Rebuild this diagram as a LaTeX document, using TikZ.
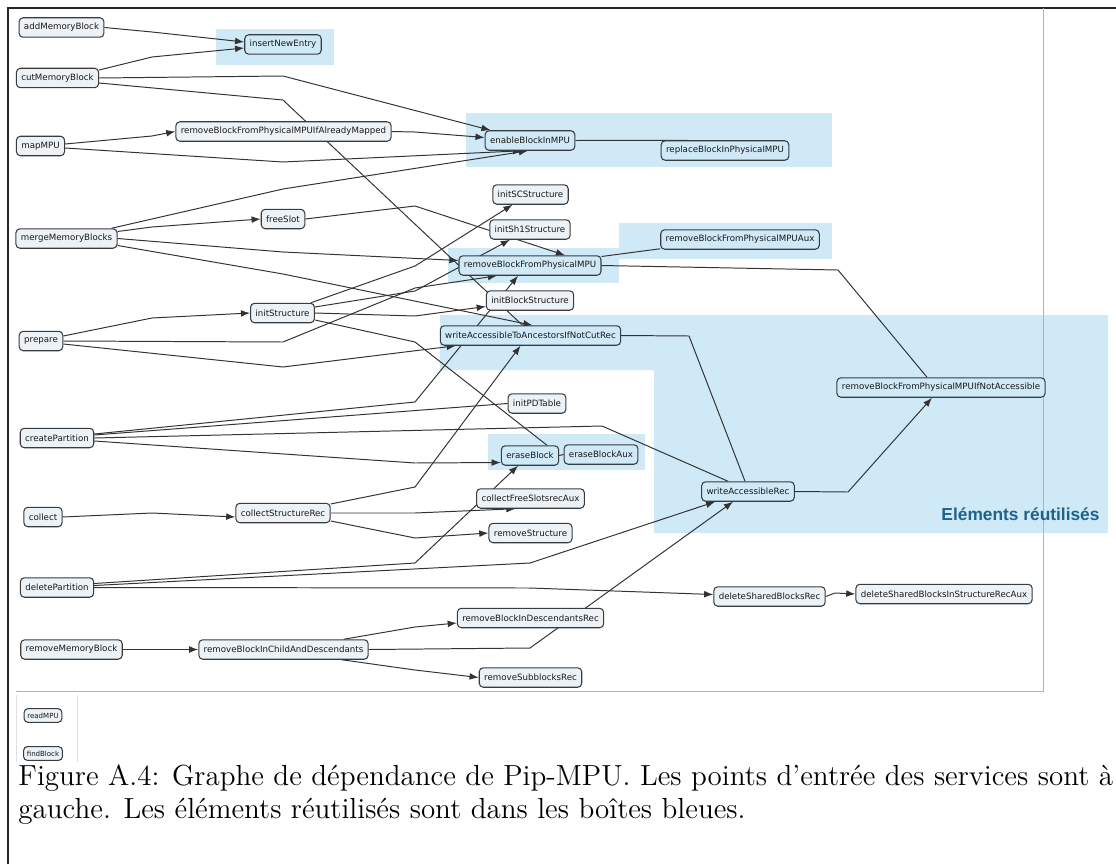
\documentclass[tikz,border=0pt]{standalone}
\usepackage{fontspec}
\setsansfont{DejaVu Sans}
\newfontfamily\tagfont{Liberation Sans}
\usetikzlibrary{calc,arrows.meta}
\definecolor{reuse}{RGB}{207,233,246}
\definecolor{fnfill}{RGB}{236,242,246}
\definecolor{fnline}{RGB}{55,60,65}
\definecolor{tagblue}{RGB}{31,98,140}
\def\fnnode{\node[fn]}
\def\fnreuse{\node[fn,fill=reuse]}
\def\drawcall{\draw[call]}
\def\drawlink{\draw[link]}
\pgfdeclarelayer{bg}
\pgfdeclarelayer{edges}
\pgfsetlayers{bg,edges,main}

\begin{document}
\begin{tikzpicture}[x=0.4268pt,y=-0.4268pt,
  fn/.style={draw=fnline,fill=fnfill,rounded corners=1.7pt,line width=0.45pt,
    font=\sffamily\fontsize{3.7}{4.2}\selectfont,text=black!90,
    minimum height=8.3pt,inner xsep=2.1pt,inner ysep=0pt},
  fnsmall/.style={fn,font=\sffamily\fontsize{3}{3.5}\selectfont,minimum height=5.9pt,inner xsep=1.4pt},
  link/.style={draw=black!80,line width=0.42pt},
  call/.style={link,-{Latex[length=3.9pt,width=2.9pt]}}]
\useasboundingbox (0,0) rectangle (1116,864);

% ---------- blue boxes of the reused elements
\begin{pgfonlayer}{bg}
\fill[reuse] (216,29) rectangle (334,65);
\fill[reuse] (466,113) rectangle (832,167);
\fill[reuse] (448,248) rectangle (619,283);
\fill[reuse] (619,223) rectangle (832,259);
\fill[reuse] (440,315) -- (1108,315) -- (1108,533) -- (654,533) -- (654,370) -- (440,370) -- cycle;
\fill[reuse] (488,434) rectangle (645,470);
\end{pgfonlayer}

% frame of the page and of the graph
\draw[black!85,line width=0.7pt] (8,864) -- (8,8) -- (1116,8);
\draw[black!30,line width=0.4pt] (1043,8) -- (1043,691) -- (16,691);
\draw[black!12,line width=0.4pt] (16,695) -- (16,762);
\draw[black!12,line width=0.4pt] (77,695) -- (77,762);

% ---------- entry points of the services
\fnnode (addMB) at (61.5,27.5) {addMemoryBlock};
\fnnode (cutMB) at (57.5,78) {cutMemoryBlock};
\fnnode (mapMPU) at (40.5,146) {mapMPU};
\fnnode (mergeMB) at (66.5,238.5) {mergeMemoryBlocks};
\fnnode (prepare) at (41,341) {prepare};
\fnnode (createP) at (57,438) {createPartition};
\fnnode (collect) at (43,517) {collect};
\fnnode (deleteP) at (57,587.5) {deletePartition};
\fnnode (removeMB) at (71.5,649.5) {removeMemoryBlock};
\node[fnsmall] (readMPU) at (43,715.5) {readMPU};
\node[fnsmall] (findBlock) at (43,753.5) {findBlock};

% ---------- second column
\fnreuse (insertNE) at (283,44.5) {insertNewEntry};
\fnnode (rbfpAM) at (283.5,131.5) {removeBlockFromPhysicalMPUIfAlreadyMapped};
\fnnode (freeSlot) at (283,219) {freeSlot};
\fnnode (initS) at (282.5,313) {initStructure};
\fnnode (collectSR) at (283,513) {collectStructureRec};
\fnnode (rbicad) at (283.5,649.5) {removeBlockInChildAndDescendants};

% ---------- third column
\fnreuse (enableB) at (530,140.5) {enableBlockInMPU};
\fnnode (initSC) at (530.5,194.5) {initSCStructure};
\fnnode (initSh1) at (530,229.5) {initSh1Structure};
\fnreuse (rbfp) at (530,265.5) {removeBlockFromPhysicalMPU};
\fnnode (initBS) at (530,300.5) {initBlockStructure};
\fnreuse (wataincr) at (530.5,335.5) {writeAccessibleToAncestorsIfNotCutRec};
\fnnode (initPD) at (537,403.5) {initPDTable};
\fnreuse (eraseB) at (530,455.5) {eraseBlock};
\fnnode (collectFS) at (530.5,498.5) {collectFreeSlotsrecAux};
\fnnode (removeS) at (530.5,533) {removeStructure};
\fnnode (rbidr) at (530.5,618) {removeBlockInDescendantsRec};
\fnnode (removeSR) at (530.5,677.5) {removeSubblocksRec};

% ---------- right part
\fnreuse (replaceB) at (725,150.5) {replaceBlockInPhysicalMPU};
\fnreuse (rbfpAux) at (740,239.5) {removeBlockFromPhysicalMPUAux};
\fnreuse (eraseBA) at (601,454.5) {eraseBlockAux};
\fnreuse (writeAR) at (748,491.5) {writeAccessibleRec};
\fnnode (deleteSBR) at (769.5,596.5) {deleteSharedBlocksRec};
\fnreuse (rbfpNA) at (941,387.5) {removeBlockFromPhysicalMPUIfNotAccessible};
\fnnode (deleteSBIS) at (944,594) {deleteSharedBlocksInStructureRecAux};

\node[font=\tagfont\bfseries\fontsize{7.4}{9}\selectfont,text=tagblue] (tag) at (1020.5,514) {Eléments réutilisés};

% bends of the polylines, one column after the other
\coordinate (k1) at (152,32);
\coordinate (k2) at (152,57);
\coordinate (k3) at (152,136);
\coordinate (k4) at (152,227);
\coordinate (k5) at (152,318);
\coordinate (k6) at (152,513);
\coordinate (m1) at (283,76);
\coordinate (m2) at (283,100);
\coordinate (m3) at (283,162);
\coordinate (m4) at (283,189);
\coordinate (m5) at (283,252);
\coordinate (m6) at (283,274);
\coordinate (m7) at (283,342);
\coordinate (m8) at (283,367);
\coordinate (r1) at (415,132);
\coordinate (r2) at (415,206);
\coordinate (r3) at (415,266);
\coordinate (r4) at (415,288);
\coordinate (r5) at (415,291);
\coordinate (r6) at (415,316);
\coordinate (r7) at (415,342);
\coordinate (r8) at (415,402);
\coordinate (r9) at (415,463);
\coordinate (r10) at (415,487);
\coordinate (r11) at (415,513);
\coordinate (r12) at (415,538);
\coordinate (r13) at (415,563);
\coordinate (r14) at (415,627);
\coordinate (r15) at (415,670);
\coordinate (s1) at (530,563);
\coordinate (s2) at (530,588);
\coordinate (s3) at (530,648);
\coordinate (s4) at (602,426);
\coordinate (s5) at (689,336);
\coordinate (s6) at (838,270);
\coordinate (s7) at (848,492);
\coordinate (s9) at (835,593);

\begin{pgfonlayer}{edges}
% addMemoryBlock, cutMemoryBlock, mapMPU
\drawcall (addMB.east) -- (k1) -- ($(insertNE.west)+(0,-2.5)$);
\drawcall ($(cutMB.east)+(0,-8)$) -- (k2) -- ($(insertNE.west)+(0,3.5)$);
\drawcall (cutMB.east) -- (m1) -- ($(enableB.north west)+(6,0)$);
\drawlink ($(cutMB.east)+(0,5)$) -- (m2) -- ($(wataincr.north)+(-8,0)$);
\drawcall ($(mapMPU.east)+(0,-2)$) -- (k3) -- (rbfpAM.west);
\drawcall ($(mapMPU.east)+(0,2)$) -- (m3) -- ($(enableB.south)+(-8,0)$);
\drawcall (rbfpAM.east) -- (r1) -- ($(enableB.west)+(0,-3)$);
% mergeMemoryBlocks
\drawcall ($(mergeMB.north east)+(-6,0)$) -- (m4) -- ($(enableB.south)+(-2,0)$);
\drawcall ($(mergeMB.east)+(0,-7)$) -- (k4) -- (freeSlot.west);
\drawcall (mergeMB.east) -- (m5) -- ($(rbfp.west)+(0,-5)$);
\drawcall ($(mergeMB.east)+(0,7)$) -- (m6) -- ($(wataincr.north)+(2,0)$);
\drawcall (freeSlot.east) -- (r2) -- ($(rbfp.north)+(35,0)$);
% prepare and initStructure
\drawcall ($(prepare.east)+(0,-5)$) -- (k5) -- (initS.west);
\drawcall (prepare.east) -- (m7) -- (r4) -- ($(rbfp.south)+(-33,0)$);
\drawcall ($(prepare.east)+(0,3)$) -- (m8) -- ($(wataincr.south west)+(16,0)$);
\drawcall ($(initS.north east)+(-4,0)$) -- (r3) -- ($(initSC.south)+(-18,0)$);
\drawcall ($(initS.east)+(0,-6)$) -- (r5) -- ($(initSh1.south)+(-20,0)$);
\drawcall (initS.east) -- (r6) -- ($(initBS.west)+(0,6)$);
\drawlink ($(initS.east)+(0,7)$) -- (r7) -- ($(eraseB.north)+(17,0)$);
% createPartition
\drawcall ($(createP.east)+(0,-4)$) -- (r8) -- ($(rbfp.south)+(-12,0)$);
\drawlink ($(createP.east)+(0,-3)$) -- (initPD.west);
\drawlink (createP.east) -- (s4) -- ($(writeAR.north)+(-20,0)$);
\drawcall ($(createP.east)+(0,3)$) -- (r9) -- ($(eraseB.west)+(0,7)$);
% collect
\drawcall (collect.east) -- (k6) -- ($(collectSR.west)+(0,4)$);
\drawcall ($(collectSR.east)+(0,-9)$) -- (r10) -- ($(wataincr.south)+(-10,0)$);
\drawcall (collectSR.east) -- (r11) -- ($(collectFS.south)+(-15,0)$);
\drawcall ($(collectSR.east)+(0,8)$) -- (r12) -- (removeS.west);
% deletePartition
\drawcall ($(deleteP.east)+(0,-4)$) -- (r13) -- ($(eraseB.south)+(-12,0)$);
\drawcall ($(deleteP.east)+(0,-2)$) -- (s1) -- ($(writeAR.south west)+(14,0)$);
\drawcall (deleteP.east) -- (s2) -- ($(deleteSBR.west)+(0,-2)$);
% removeMemoryBlock
\drawcall (removeMB.east) -- (rbicad.west);
\drawcall ($(rbicad.north east)+(-25,0)$) -- (r14) -- ($(rbidr.west)+(0,5)$);
\drawcall (rbicad.east) -- (s3) -- ($(writeAR.south)+(-15,0)$);
\drawcall ($(rbicad.south east)+(-27,0)$) -- (r15) -- (removeSR.west);
% reused elements
\drawlink (enableB.east) -- ($(replaceB.north west)+(27,0)$);
\drawlink ($(rbfp.east)+(0,-9)$) -- ($(rbfpAux.south west)+(0,-1)$);
\drawlink (rbfp.east) -- (s6) -- ($(rbfpNA.north)+(-14,0)$);
\drawlink (wataincr.east) -- (s5) -- ($(writeAR.north)+(-3,0)$);
\drawcall (writeAR.east) -- (s7) -- ($(rbfpNA.south)+(-9,0)$);
\drawlink (eraseB.east) -- (eraseBA.west);
\drawcall (deleteSBR.east) -- (s9) -- (deleteSBIS.west);
\end{pgfonlayer}

% ---------- caption
\node[anchor=base west,inner sep=0pt,font=\fontsize{12.4}{14}\selectfont] (cap1) at (18,785)
  {Figure A.4: Graphe de dépendance de Pip-MPU. Les points d’entrée des services sont à};
\node[anchor=base west,inner sep=0pt,font=\fontsize{12.4}{14}\selectfont] (cap2) at (18,818)
  {gauche. Les éléments réutilisés sont dans les boîtes bleues.};
\end{tikzpicture}
\end{document}
